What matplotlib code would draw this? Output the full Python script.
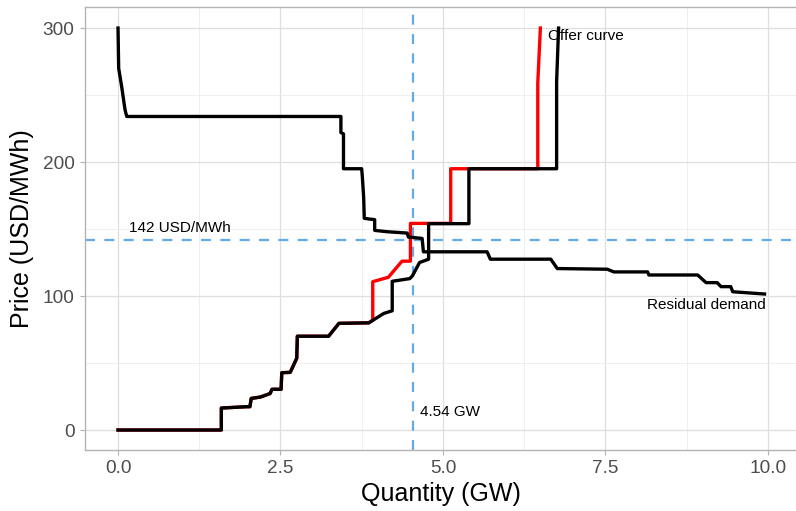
import numpy as np
import matplotlib
matplotlib.use('Agg')
import matplotlib.pyplot as plt
from matplotlib.ticker import MultipleLocator

plt.rcParams['font.family'] = ['Liberation Sans', 'DejaVu Sans']

# residual demand curve (GW, USD/MWh)
dem_q = [0, 0.005, 0.01, 0.057, 0.108, 0.134, 3.43, 3.43, 3.47, 3.47, 3.75, 3.76,
         3.78, 3.79, 3.86, 3.95, 3.95, 4.14, 4.45, 4.47, 4.68, 4.70, 5.68, 5.73,
         6.66, 6.76, 7.53, 7.63, 8.15, 8.17, 8.92, 9.05, 9.22, 9.28, 9.43, 9.46, 9.95]
dem_p = [300, 285, 270, 256, 239, 234, 234, 222, 221, 195, 195, 189,
         174, 158, 157.5, 157, 149, 148, 147, 144, 143, 133, 133, 127.5,
         127.5, 120.5, 120, 118, 118, 115.7, 115.7, 110, 110, 107, 107, 103.2, 101.5]

# offer curve (black)
off_q = [0, 1.59, 1.59, 1.98, 2.03, 2.05, 2.19, 2.34, 2.37, 2.51, 2.52, 2.65, 2.75,
         2.76, 3.24, 3.40, 3.86, 4.09, 4.22, 4.22, 4.49, 4.53, 4.64, 4.78, 4.78,
         5.40, 5.40, 6.75, 6.75, 6.78]
off_p = [0, 0, 16.4, 17.4, 17.4, 23.6, 24.6, 27.2, 30.4, 30.4, 42.8, 43, 53.5,
         70, 70, 79.6, 80, 87, 89, 111, 113, 115, 125, 127.5, 154,
         154, 195, 195, 260, 300]

# shifted offer curve (red)
red_q = [0, 1.59, 1.59, 1.98, 2.03, 2.05, 2.19, 2.34, 2.37, 2.51, 2.52, 2.65, 2.75,
         2.76, 3.24, 3.40, 3.86, 3.92, 3.92, 4.16, 4.37, 4.50, 4.50, 5.12, 5.12,
         6.46, 6.46, 6.50]
red_p = [0, 0, 16.4, 17.4, 17.4, 23.6, 24.6, 27.2, 30.4, 30.4, 42.8, 43, 53.5,
         70, 70, 79.6, 80, 82, 110.7, 114, 126, 126, 154.2, 154.2, 195,
         195, 259, 300]

eq_q = 4.54
eq_p = 142

fig = plt.figure(figsize=(7.96, 5.11), dpi=100)
ax = fig.add_axes([0.1068, 0.1194, 0.8945, 0.8669])

blue = '#62ABE8'
ax.axhline(eq_p, color=blue, lw=1.6, ls=(0, (4.5, 4.2)), zorder=2)
ax.axvline(eq_q, color=blue, lw=1.6, ls=(0, (4.5, 4.2)), zorder=2)

ax.plot(red_q, red_p, color='red', lw=2.4, zorder=3, solid_joinstyle='round')
ax.plot(off_q, off_p, color='black', lw=2.4, zorder=4, solid_joinstyle='round')
ax.plot(dem_q, dem_p, color='black', lw=2.4, zorder=4, solid_joinstyle='round')

ax.text(6.625, 294, 'Offer curve', fontsize=11, ha='left', va='center')
ax.text(9.97, 93.3, 'Residual demand', fontsize=11, ha='right', va='center')
ax.text(0.17, 150.5, '142 USD/MWh', fontsize=11, ha='left', va='center')
ax.text(4.64, 13.7, '4.54 GW', fontsize=11, ha='left', va='center')

ax.set_xlim(-0.508, 10.45)
ax.set_ylim(-14.9, 315.7)
ax.xaxis.set_major_locator(MultipleLocator(2.5))
ax.xaxis.set_minor_locator(MultipleLocator(1.25))
ax.yaxis.set_major_locator(MultipleLocator(100))
ax.yaxis.set_minor_locator(MultipleLocator(50))
ax.set_xticks([0, 2.5, 5, 7.5, 10])
ax.set_xticklabels(['0.0', '2.5', '5.0', '7.5', '10.0'])

ax.grid(which='major', color='#dedede', lw=0.9, zorder=0)
ax.grid(which='minor', color='#ececec', lw=0.6, zorder=0)
ax.set_axisbelow(True)

for s in ['left', 'top', 'bottom']:
    ax.spines[s].set_color('#b3b3b3')
    ax.spines[s].set_linewidth(1.0)
ax.spines['right'].set_visible(False)

ax.tick_params(which='major', length=3.5, width=0.8, color='#b3b3b3',
               labelsize=13.7, labelcolor='#4d4d4d', pad=4)
ax.tick_params(which='minor', length=0)

ax.set_xlabel('Quantity (GW)', fontsize=18, labelpad=3)
ax.set_ylabel('Price (USD/MWh)', fontsize=18, labelpad=6)

fig.savefig('out.png', dpi=100)
